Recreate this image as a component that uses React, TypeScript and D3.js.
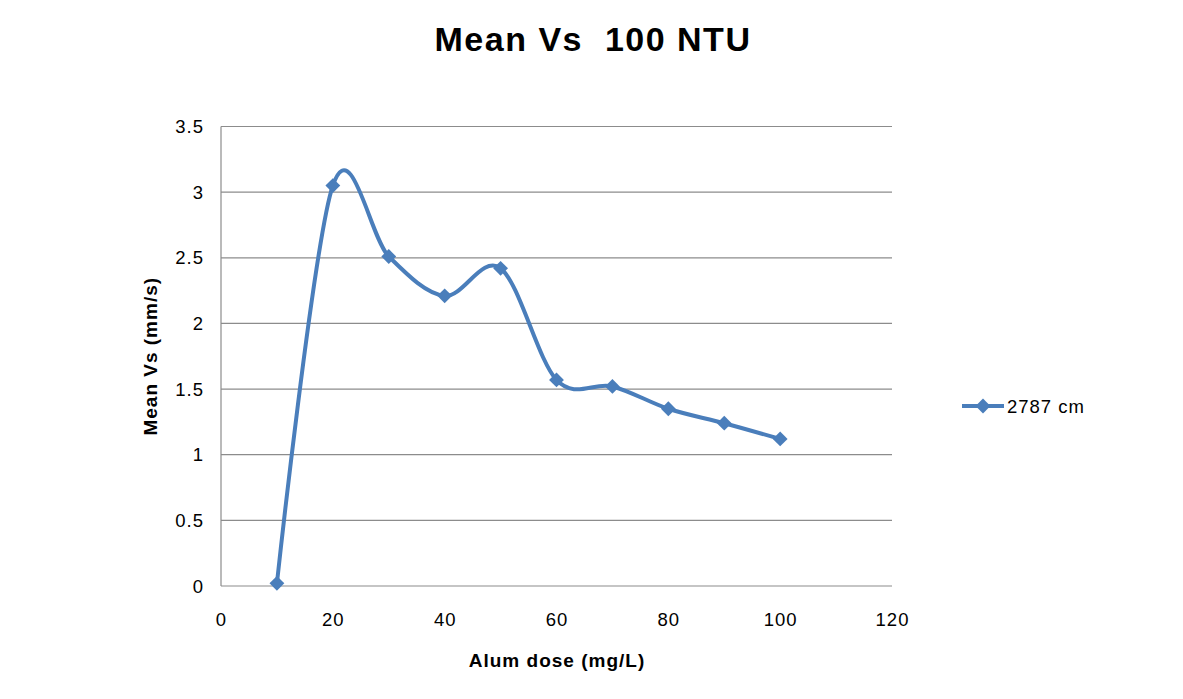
import * as d3 from 'd3';
import React, { useEffect, useRef } from 'react';

// chart data
const doses = [10, 20, 30, 40, 50, 60, 70, 80, 90, 100];
const meanVs = [0.02, 3.05, 2.51, 2.21, 2.42, 1.57, 1.52, 1.35, 1.24, 1.12];
const xTicks = [0, 20, 40, 60, 80, 100, 120];
const yTicks = [0, 0.5, 1, 1.5, 2, 2.5, 3, 3.5];
const seriesName = '2787 cm';

const W = 1183;
const H = 699;
const FONT = 'Liberation Sans, Arial, Helvetica, sans-serif';
const BLUE = '#4a7ebb';

export default function App() {
	const ref = useRef<SVGSVGElement>(null);

	useEffect(() => {
		const svg = d3.select(ref.current);
		svg.selectAll('*').remove();

		const margin = { top: 126.5, right: 291, bottom: 113, left: 221 };

		const x = d3.scaleLinear()
			.domain([0, 120])
			.range([margin.left, W - margin.right]);

		const y = d3.scaleLinear()
			.domain([0, 3.5])
			.range([H - margin.bottom, margin.top]);

		// gridlines
		svg.append('g')
			.selectAll('line')
			.data(yTicks)
			.join('line')
			.attr('x1', x(0))
			.attr('x2', x(120))
			.attr('y1', d => y(d))
			.attr('y2', d => y(d))
			.attr('stroke', '#8c8c8c')
			.attr('stroke-width', 1.2);

		// left axis line
		svg.append('line')
			.attr('x1', x(0))
			.attr('x2', x(0))
			.attr('y1', y(0))
			.attr('y2', y(3.5))
			.attr('stroke', '#8c8c8c')
			.attr('stroke-width', 1.2);

		// y tick labels
		svg.append('g')
			.selectAll('text')
			.data(yTicks)
			.join('text')
			.attr('x', x(0) - 17)
			.attr('y', d => y(d) + 6.5)
			.attr('text-anchor', 'end')
			.style('font-family', FONT)
			.style('font-size', '18.5px')
			.style('letter-spacing', '1px')
			.text(d => String(d));

		// x tick labels
		svg.append('g')
			.selectAll('text')
			.data(xTicks)
			.join('text')
			.attr('x', d => x(d) + 0.5)
			.attr('y', y(0) + 40)
			.attr('text-anchor', 'middle')
			.style('font-family', FONT)
			.style('font-size', '18.5px')
			.style('letter-spacing', '1px')
			.text(d => String(d));

		const pts: [number, number][] = doses.map((d, i) => [x(d), y(meanVs[i])]);

		const line = d3.line<[number, number]>()
			.curve(d3.curveCardinal.tension(0));

		svg.append('path')
			.attr('d', line(pts))
			.attr('fill', 'none')
			.attr('stroke', BLUE)
			.attr('stroke-width', 4)
			.attr('stroke-linejoin', 'round');

		const diamond = d3.symbol().type(d3.symbolDiamond2).size(140);

		svg.append('g')
			.selectAll('path')
			.data(pts)
			.join('path')
			.attr('d', diamond())
			.attr('transform', d => `translate(${d[0]},${d[1]})`)
			.attr('fill', BLUE);

		// title
		svg.append('text')
			.attr('x', 593)
			.attr('y', 51)
			.attr('text-anchor', 'middle')
			.style('font-family', FONT)
			.style('font-weight', 'bold')
			.style('font-size', '34px')
			.style('letter-spacing', '1.5px')
			.text('Mean Vs \u00a0100 NTU');

		// axis titles
		svg.append('text')
			.attr('x', 557)
			.attr('y', 667)
			.attr('text-anchor', 'middle')
			.style('font-family', FONT)
			.style('font-weight', 'bold')
			.style('font-size', '19px')
			.style('letter-spacing', '1px')
			.text('Alum dose (mg/L)');

		svg.append('text')
			.attr('transform', `translate(157, ${(y(0) + y(3.5)) / 2}) rotate(-90)`)
			.attr('text-anchor', 'middle')
			.style('font-family', FONT)
			.style('font-weight', 'bold')
			.style('font-size', '19px')
			.style('letter-spacing', '1px')
			.text('Mean Vs (mm/s)');

		// legend
		const lg = svg.append('g').attr('transform', 'translate(962, 406)');
		lg.append('line')
			.attr('x1', 0)
			.attr('x2', 42)
			.attr('stroke', BLUE)
			.attr('stroke-width', 4);
		lg.append('path')
			.attr('d', diamond())
			.attr('transform', 'translate(21,0)')
			.attr('fill', BLUE);
		lg.append('text')
			.attr('x', 45)
			.attr('y', 7)
			.style('font-family', FONT)
			.style('font-size', '18.5px')
			.style('letter-spacing', '1px')
			.text(seriesName);
	}, []);

	return (
		<svg ref={ref} width={W} height={H} style={{ position: 'absolute', left: 0, top: 0, background: '#fff' }} />
	);
}
